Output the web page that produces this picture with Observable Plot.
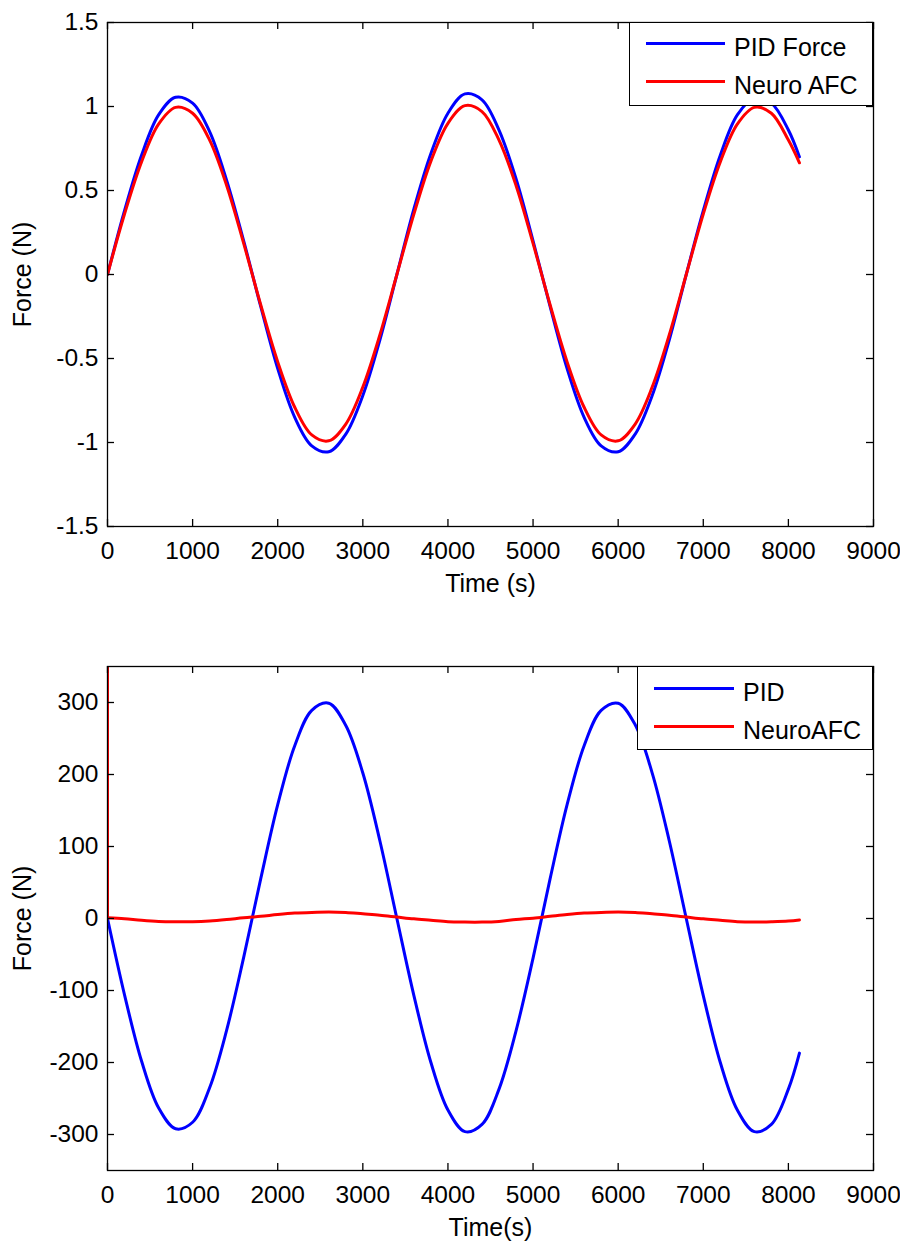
<!DOCTYPE html>
<html>
<head>
<meta charset="utf-8">
<script src="https://cdn.jsdelivr.net/npm/d3@7"></script>
<script src="https://cdn.jsdelivr.net/npm/@observablehq/plot@0.6"></script>
<style>
  body { margin: 0; background: #fff; font-family: "Liberation Sans", Arial, sans-serif; }
  #wrap { position: relative; width: 900px; height: 1242px; overflow: hidden; }
  .plot { position: absolute; left: 0; }
  .legend { position: absolute; background: #fff; border: 1px solid #000; box-sizing: border-box; }
  .legend .row { position: absolute; left: 0; right: 0; height: 30px; }
  .legend .swatch { position: absolute; top: 13px; height: 0; border-top: 3px solid; }
  .legend .lab { position: absolute; top: 3px; line-height: 30px; font-size: 25px; color: #000; white-space: nowrap; }
</style>
</head>
<body>
<div id="wrap"></div>
<script>
// ---------- data ----------
const time = [0,200,400,600,800,1000,1200,1400,1600,1800,2000,2200,2400,2600,2800,3000,3200,3400,
  3600,3800,4000,4200,4400,4600,4800,5000,5200,5400,5600,5800,6000,6200,6400,6600,6800,
  7000,7200,7400,7600,7800,8000,8130];

// top panel
const pidForce = [0,0.38,0.71,0.95,1.055,1.02,0.85,0.56,0.20,-0.19,-0.56,-0.85,-1.02,-1.055,-0.95,-0.72,-0.39,0.0,
  0.39,0.72,0.96,1.075,1.04,0.86,0.57,0.20,-0.19,-0.56,-0.85,-1.02,-1.055,-0.95,-0.72,-0.39,0.0,
  0.38,0.71,0.95,1.05,1.02,0.86,0.70];
const neuroAfc = [0,0.36,0.67,0.895,0.995,0.96,0.80,0.53,0.185,-0.18,-0.52,-0.79,-0.955,-0.99,-0.89,-0.67,-0.36,0.0,
  0.36,0.675,0.90,1.005,0.97,0.80,0.53,0.185,-0.18,-0.52,-0.79,-0.955,-0.99,-0.89,-0.67,-0.36,0.0,
  0.36,0.67,0.895,0.995,0.96,0.80,0.665];

// bottom panel
const pid = [0,-106,-198,-263,-292,-283,-235,-155,-54,55,158,240,289,299,268,202,108,0,
  -107,-200,-266,-296,-286,-237,-156,-55,55,158,240,289,299,269,202,108,0,
  -107,-200,-266,-296,-286,-237,-187];
const neuroAfcBottom = [1,-0.5,-2.5,-4,-4.5,-4.5,-3.5,-1.5,1,3,5.5,7.5,8.5,9,8.5,6.5,4.5,2,
  -0.5,-2.5,-4.5,-5,-5,-4,-1.5,0.5,3,5.5,7.5,8.5,9,8.5,6.5,4.5,2,
  -0.5,-2.5,-4.5,-5,-4.5,-3.5,-2];
const neuroAfcSpike = [400, 1]; // initial transient at t = 0

const xTicks = [0,1000,2000,3000,4000,5000,6000,7000,8000,9000];
const yTicksTop = [-1.5,-1,-0.5,0,0.5,1,1.5];
const yTicksBottom = [-300,-200,-100,0,100,200,300];

const topNames = ["PID Force", "Neuro AFC"];
const bottomNames = ["PID", "NeuroAFC"];
const colors = ["#0000ff", "#ff0000"];

// ---------- drawing ----------
const W = 900, ML = 107, MR = 27;
const TICK = 7;
const FONT = '"Liberation Sans", Arial, sans-serif';
const wrap = document.getElementById("wrap");

function panel({top, height, marginTop, marginBottom, yDomain, yTicks, series, spike, xLabel, yLabel}) {
  const [y0, y1] = yDomain;
  const marks = [];
  series.forEach((s, i) => {
    const data = time.map((t, j) => ({t, v: s[j]}));
    marks.push(Plot.line(data, {x: "t", y: "v", stroke: colors[i], strokeWidth: 3, curve: "catmull-rom", clip: true}));
    if (spike && i === 1) {
      marks.push(Plot.line(spike.map(v => ({t: 0, v})), {x: "t", y: "v", stroke: colors[i], strokeWidth: 3, clip: true}));
    }
  });
  marks.push(Plot.frame({stroke: "#000", strokeWidth: 1.3}));
  // inward ticks on all four sides (MATLAB box style)
  marks.push(Plot.ruleX(xTicks, {x: d => d, y1: y0, y2: y0, insetTop: -TICK, stroke: "#000", strokeWidth: 1.3}));
  marks.push(Plot.ruleX(xTicks, {x: d => d, y1: y1, y2: y1, insetBottom: -TICK, stroke: "#000", strokeWidth: 1.3}));
  marks.push(Plot.ruleY(yTicks, {y: d => d, x1: 0, x2: 0, insetRight: -TICK, stroke: "#000", strokeWidth: 1.3}));
  marks.push(Plot.ruleY(yTicks, {y: d => d, x1: 9000, x2: 9000, insetLeft: -TICK, stroke: "#000", strokeWidth: 1.3}));
  marks.push(Plot.text([xLabel], {frameAnchor: "bottom", dy: 57, text: d => d, fontSize: 25, fill: "#000",
    textAnchor: "middle", lineAnchor: "middle"}));
  marks.push(Plot.text([yLabel], {frameAnchor: "left", dx: -85, rotate: -90, text: d => d, fontSize: 25, fill: "#000",
    textAnchor: "middle", lineAnchor: "middle"}));

  const svg = Plot.plot({
    width: W, height, marginLeft: ML, marginRight: MR, marginTop, marginBottom,
    style: {fontSize: "24.5px", fontFamily: FONT, color: "#000", background: "#fff", overflow: "visible"},
    x: {domain: [0, 9000], ticks: xTicks, tickSize: 0, tickPadding: 15, tickFormat: d => String(d), label: null},
    y: {domain: yDomain, ticks: yTicks, tickSize: 0, tickPadding: 9, tickFormat: d => String(d), label: null},
    marks
  });
  svg.classList.add("plot");
  svg.style.top = top + "px";
  wrap.appendChild(svg);
}

function legend({left, top, width, height, names, lineX0, lineX1, textX, rowYs}) {
  const box = document.createElement("div");
  box.className = "legend";
  Object.assign(box.style, {left: left + "px", top: top + "px", width: width + "px", height: height + "px"});
  names.forEach((n, i) => {
    const row = document.createElement("div");
    row.className = "row";
    row.style.top = (rowYs[i] - top - 15) + "px";
    const sw = document.createElement("div");
    sw.className = "swatch";
    Object.assign(sw.style, {left: (lineX0 - left) + "px", width: (lineX1 - lineX0) + "px", borderTopColor: colors[i]});
    const lab = document.createElement("div");
    lab.className = "lab";
    lab.style.left = (textX - left) + "px";
    lab.textContent = n;
    row.appendChild(sw); row.appendChild(lab);
    box.appendChild(row);
  });
  wrap.appendChild(box);
}

panel({top: 0, height: 620, marginTop: 22, marginBottom: 94, yDomain: [-1.5, 1.5], yTicks: yTicksTop,
  series: [pidForce, neuroAfc], xLabel: "Time (s)", yLabel: "Force (N)"});
panel({top: 620, height: 622, marginTop: 46, marginBottom: 72, yDomain: [-350, 350], yTicks: yTicksBottom,
  series: [pid, neuroAfcBottom], spike: neuroAfcSpike, xLabel: "Time(s)", yLabel: "Force (N)"});

legend({left: 629, top: 22, width: 244, height: 84, names: topNames, lineX0: 645, lineX1: 724, textX: 733, rowYs: [43, 81]});
legend({left: 637, top: 666, width: 236, height: 84, names: bottomNames, lineX0: 653, lineX1: 733, textX: 742, rowYs: [688, 726]});
</script>
</body>
</html>
